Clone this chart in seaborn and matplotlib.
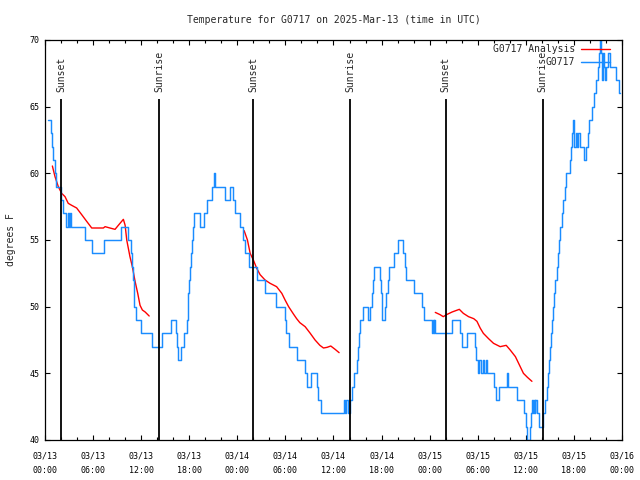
import matplotlib
matplotlib.use("Agg")
import matplotlib.pyplot as plt
import matplotlib.dates as mdates
from matplotlib.lines import Line2D
import pandas as pd
import seaborn as sns

start = pd.Timestamp("2025-03-13 00:00")

# station readings (hours after start, deg F), value holds until next entry
obs_hours = [0.35, 0.80, 0.92, 1.05, 1.20, 1.40, 1.95, 2.30, 2.65, 2.85, 2.95, 3.10, 3.20,
             5.00, 5.90, 7.30, 9.50, 10.40, 10.70, 10.85, 10.95, 11.05, 11.15, 11.30,
             12.00, 13.40, 14.65, 15.70, 16.40, 16.50, 16.60, 17.00, 17.30, 17.70, 17.80,
             17.90, 18.00, 18.10, 18.20, 18.35, 18.45, 18.60, 19.35, 19.90, 20.20, 20.90,
             21.05, 21.25, 22.50, 23.10, 23.50, 23.75, 24.30, 24.70, 25.00, 25.40, 26.40,
             27.50, 28.80, 29.90, 30.10, 30.40, 31.40, 32.50, 32.70, 33.20, 33.90, 34.10,
             34.50, 37.25, 37.45, 37.60, 37.80, 38.00, 38.30, 38.50, 38.90, 39.05, 39.15,
             39.30, 39.70, 40.35, 40.60, 40.75, 40.90, 41.05, 41.80, 41.90, 42.00, 42.05,
             42.45, 42.60, 42.75, 42.90, 43.50, 44.05, 44.70, 44.90, 45.10, 46.00, 47.00,
             47.30, 48.30, 48.40, 48.50, 48.60, 48.70, 50.80, 51.80, 52.00, 52.70, 53.70,
             53.80, 54.00, 54.20, 54.40, 54.60, 54.80, 55.00, 55.20, 56.00, 56.30, 56.60,
             57.60, 57.75, 58.90, 59.80, 60.00, 60.20, 60.55, 60.65, 60.75, 60.90, 61.00,
             61.10, 61.20, 61.45, 61.70, 62.20, 62.40, 62.70, 62.80, 62.95, 63.05, 63.20,
             63.30, 63.40, 63.50, 63.70, 63.90, 64.00, 64.10, 64.30, 64.50, 64.70, 64.85,
             64.95, 65.45, 65.60, 65.75, 65.85, 65.95, 66.05, 66.20, 66.35, 66.50, 66.80,
             67.20, 67.55, 67.70, 67.90, 68.20, 68.50, 68.75, 68.95, 69.10, 69.25, 69.40,
             69.50, 69.60, 69.80, 69.90, 70.05, 70.20, 70.50, 71.30, 71.60, 71.80]
obs_temp = [64, 63, 62, 61, 60, 59, 58, 57, 56, 57, 56, 57, 56,
            55, 54, 55, 56, 55, 54, 53, 52, 51, 50, 49,
            48, 47, 48, 49, 48, 47, 46, 47, 48, 49, 50,
            51, 52, 53, 54, 55, 56, 57, 56, 57, 58, 59,
            60, 59, 58, 59, 58, 57, 56, 55, 54, 53, 52,
            51, 50, 49, 48, 47, 46, 45, 44, 45, 44, 43,
            42, 43, 42, 43, 42, 43, 44, 45, 46, 47, 48,
            49, 50, 49, 50, 51, 52, 53, 52, 51, 50, 49,
            50, 51, 52, 53, 54, 55, 54, 53, 52, 51, 50,
            49, 48, 49, 48, 49, 48, 49, 48, 47, 48, 47,
            46, 45, 46, 45, 46, 45, 46, 45, 44, 43, 44,
            45, 44, 43, 42, 41, 40, 41, 42, 43, 42, 43,
            42, 43, 42, 41, 42, 43, 44, 45, 46, 47, 48,
            49, 50, 51, 52, 53, 54, 55, 56, 57, 58, 59,
            60, 61, 62, 63, 64, 63, 62, 63, 62, 63, 62,
            61, 62, 63, 64, 65, 66, 67, 68, 69, 70, 69,
            67, 69, 68, 67, 68, 69, 68, 67, 66, 66]

# analysis runs (three separate pieces)
ana1_hours = [0.92, 1.25, 1.66, 2.08, 2.5, 2.9, 3.33, 3.95, 4.58, 5.2, 5.83, 7.28, 7.5,
              8.1, 8.74, 9.15, 9.78, 10.0, 10.2, 10.6, 10.9, 11.24, 11.57, 11.86,
              12.15, 12.5, 13.0]
ana1_temp = [60.55, 59.75, 59.0, 58.5, 58.25, 57.75, 57.6, 57.4, 56.9, 56.4, 55.9, 55.9,
             56.0, 55.9, 55.8, 56.1, 56.55, 56.1, 55.0, 53.75, 53.0, 51.9, 51.0, 50.1,
             49.75, 49.6, 49.3]
ana2_hours = [24.85, 25.26, 25.6, 26.0, 26.4, 26.84, 27.46, 28.09, 28.9, 29.55, 29.96,
              30.4, 31.0, 31.4, 31.8, 32.46, 33.1, 33.7, 34.3, 34.75, 35.2, 35.66,
              36.2, 36.7]
ana2_temp = [55.7, 55.0, 54.0, 53.5, 52.9, 52.4, 52.0, 51.75, 51.5, 51.0, 50.5, 50.0,
             49.45, 49.1, 48.8, 48.5, 48.0, 47.5, 47.1, 46.9, 46.95, 47.05, 46.8, 46.55]
ana3_hours = [48.7, 49.3, 49.7, 50.1, 50.8, 51.7, 52.2, 52.85, 53.5, 53.9, 54.3, 54.7,
              55.35, 55.97, 56.8, 57.55, 58.05, 58.7, 59.3, 59.7, 60.2, 60.76]
ana3_temp = [49.57, 49.4, 49.25, 49.4, 49.6, 49.8, 49.5, 49.25, 49.1, 48.9, 48.4, 48.0,
             47.6, 47.25, 47.0, 47.1, 46.75, 46.25, 45.5, 45.0, 44.7, 44.4]

sun_hours = [2.0, 14.27, 26.0, 38.1, 50.0, 62.1]
sun_labels = ["Sunset", "Sunrise", "Sunset", "Sunrise", "Sunset", "Sunrise"]

obs = pd.DataFrame({"time": start + pd.to_timedelta(obs_hours, unit="h"), "temp": obs_temp})
ana = pd.concat([
    pd.DataFrame({"time": start + pd.to_timedelta(h, unit="h"), "temp": v, "run": i})
    for i, (h, v) in enumerate([(ana1_hours, ana1_temp), (ana2_hours, ana2_temp),
                                (ana3_hours, ana3_temp)])
])

sns.set_style("ticks")
plt.rcParams["font.family"] = ["DejaVu Sans Mono"]

blue = "#1a8cff"
red = "#ff0000"

fig = plt.figure(figsize=(6.4, 4.8), dpi=100)
ax = fig.add_axes([45 / 640, 40 / 480, 577 / 640, 400 / 480])

sns.lineplot(data=ana, x="time", y="temp", units="run", estimator=None, sort=False,
             color=red, lw=1.0, ax=ax)
sns.lineplot(data=obs, x="time", y="temp", estimator=None, sort=False,
             color=blue, lw=1.05, drawstyle="steps-post", ax=ax)

sun_times = start + pd.to_timedelta(sun_hours, unit="h")
ax.vlines(sun_times, 40, 65.6, color="black", lw=1.3)
for t, lab in zip(sun_times, sun_labels):
    ax.text(t, 66.1, lab, rotation=90, ha="center", va="bottom", fontsize=7)

ax.set_xlim(start, start + pd.Timedelta(hours=72))
ax.set_ylim(40, 70)
ax.set_yticks(range(40, 71, 5))
ax.xaxis.set_major_locator(mdates.HourLocator(byhour=[0, 6, 12, 18]))
ax.xaxis.set_minor_locator(mdates.HourLocator(interval=2))
ax.xaxis.set_major_formatter(mdates.DateFormatter("%m/%d\n%H:%M"))

ax.tick_params(which="both", direction="in", top=True, right=True, width=0.8,
               colors="black", labelsize=6)
ax.tick_params(which="major", length=3.5)
ax.tick_params(which="minor", length=2.2)
ax.tick_params(axis="x", pad=8)
ax.tick_params(axis="y", pad=4)
for lbl in ax.get_xticklabels():
    lbl.set_linespacing(1.9)
for s in ax.spines.values():
    s.set_visible(True)
    s.set_color("black")
    s.set_linewidth(0.9)

ax.set_xlabel("")
ax.set_ylabel("degrees F", fontsize=7, labelpad=10)
ax.set_title("Temperature for G0717 on 2025-Mar-13 (time in UTC)", fontsize=7, pad=12)

handles = [Line2D([], [], color=red, lw=1.0), Line2D([], [], color=blue, lw=1.05)]
ax.legend(handles, ["G0717 Analysis", "G0717"], loc="upper right",
          bbox_to_anchor=(1 - 12 / 577, 1 - 4 / 400), borderaxespad=0, frameon=False,
          markerfirst=False, fontsize=7, handlelength=3.0, handletextpad=0.6,
          labelspacing=0.3, borderpad=0)

fig.savefig("out.png", dpi=100)
